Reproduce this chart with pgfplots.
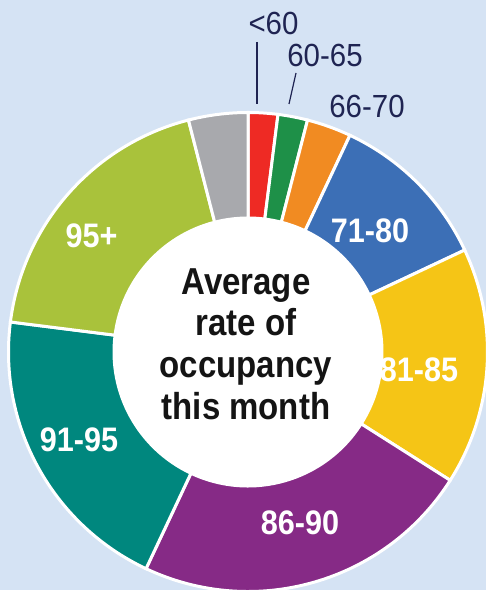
\documentclass[border=0pt]{standalone}
\usepackage{pgfplots}
\usepackage{pgfplotstable}
\pgfplotsset{compat=1.18}
\usepackage{fontspec}
\setmainfont{Liberation Sans}[FakeStretch=0.92]
\newfontfamily\ctrfont{Liberation Sans}[FakeStretch=0.88]
\newfontfamily\lblfont{Liberation Sans}[FakeStretch=0.9]

\definecolor{bg}{HTML}{D5E3F4}
\definecolor{navy}{HTML}{1F2452}
\definecolor{c0}{HTML}{EE2A24}
\definecolor{c1}{HTML}{1E9048}
\definecolor{c2}{HTML}{F18B22}
\definecolor{c3}{HTML}{3C6FB6}
\definecolor{c4}{HTML}{F5C516}
\definecolor{c5}{HTML}{862A86}
\definecolor{c6}{HTML}{00877E}
\definecolor{c7}{HTML}{A9C23B}
\definecolor{c8}{HTML}{A8A9AD}

% share of each category (percent), clockwise from the top
\pgfplotstableread{
name value
{<60} 2
{60-65} 2
{66-70} 3
{71-80} 11
{81-85} 16
{86-90} 23
{91-95} 20
{95+} 19
{other} 4
}\piedata

\gdef\cum{0}
\pgfplotstableforeachcolumnelement{value}\of\piedata\as\v{%
  \pgfmathsetmacro\a{90-\cum*3.6}%
  \pgfmathsetmacro\cumnew{\cum+\v}%
  \pgfmathsetmacro\b{90-\cumnew*3.6}%
  \expandafter\xdef\csname sa\pgfplotstablerow\endcsname{\a}%
  \expandafter\xdef\csname sb\pgfplotstablerow\endcsname{\b}%
  \xdef\cum{\cumnew}%
}

\begin{document}
\begin{tikzpicture}
\useasboundingbox (0,0) rectangle (486pt,590pt);
\clip (0,0) rectangle (486pt,590pt);
\fill[bg] (0,0) rectangle (486pt,590pt);
\begin{axis}[at={(0,0)}, anchor=south west, x=1pt, y=1pt,
  xmin=-248, xmax=238, ymin=-238, ymax=352, hide axis, clip=false]
\pgfplotsinvokeforeach{0,...,8}{
  \fill[c#1, draw=white, line width=3pt, line join=miter, shift={(axis cs:0,0)}]
    ({\csname sa#1\endcsname}:239.5pt)
    arc[start angle={\csname sa#1\endcsname}, end angle={\csname sb#1\endcsname}, radius=239.5pt]
    -- ({\csname sb#1\endcsname}:134pt)
    arc[start angle={\csname sb#1\endcsname}, end angle={\csname sa#1\endcsname}, radius=134pt]
    -- cycle;
}
\fill[white] (axis cs:0,0) circle[radius=134pt];
% labels inside the ring
\node[text=white, font=\lblfont\bfseries\fontsize{34}{40}\selectfont] at (axis cs:122,121.5) {71-80};
\node[text=white, font=\lblfont\bfseries\fontsize{34}{40}\selectfont] at (axis cs:171,-18) {81-85};
\node[text=white, font=\lblfont\bfseries\fontsize{34}{40}\selectfont] at (axis cs:52,-171) {86-90};
\node[text=white, font=\lblfont\bfseries\fontsize{34}{40}\selectfont] at (axis cs:-169,-88) {91-95};
\node[text=white, font=\lblfont\bfseries\fontsize{34}{40}\selectfont] at (axis cs:-156.5,116) {95+};
% labels outside
\node[text=navy, font=\fontsize{32}{38}\selectfont] at (axis cs:25.5,328.5) {<60};
\node[text=navy, font=\fontsize{32}{38}\selectfont] at (axis cs:77,296.5) {60-65};
\node[text=navy, font=\fontsize{32}{38}\selectfont] at (axis cs:119,245.5) {66-70};
\draw[navy, line width=1.2pt] (axis cs:9,310) -- (axis cs:9,248);
\draw[navy, line width=1.2pt] (axis cs:48,279) -- (axis cs:41,248);
% centre text
\node[align=center, text=black!92, font=\ctrfont\bfseries\fontsize{37.5}{41.7}\selectfont]
  at (axis cs:-2,8) {Average\\rate of\\occupancy\\this month};
\end{axis}
\end{tikzpicture}
\end{document}
